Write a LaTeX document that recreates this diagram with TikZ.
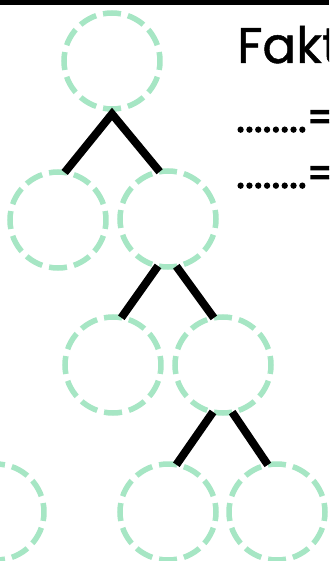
\documentclass[tikz,border=0pt]{standalone}
\usepackage{fontspec}
\setmainfont{Poppins}
\newfontfamily\heavy{Poppins}[FakeBold=1]
\newfontfamily\heavydots{Poppins}[FakeBold=2.5]
\usetikzlibrary{calc}
\definecolor{mint}{RGB}{166,230,196}
\begin{document}
\begin{tikzpicture}[x=1pt,y=-1pt,
  bub/.style={circle,draw=mint,line width=5.5pt,dash pattern=on 18pt off 7.13pt,dash phase=9pt,minimum size=96pt,inner sep=0pt,outer sep=0pt},
  edge/.style={line width=8pt,black,line join=miter},
  big/.style={font=\heavy\fontsize{50}{50}\selectfont,anchor=base west,inner sep=0pt},
  dots/.style={font=\heavydots\fontsize{42}{42}\selectfont,anchor=base west,inner sep=0pt}]
\useasboundingbox (0,0) rectangle (329,561);
\clip (0,0) rectangle (329,561);
\fill[white] (0,0) rectangle (329,561);
\fill[black] (0,0) rectangle (329,5);
\node[bub] (A) at (112,61) {};
\node[bub] (B) at (58,220) {};
\node[bub] (C) at (168,219) {};
\node[bub] (D) at (113,365) {};
\node[bub] (E) at (223,365) {};
\node[bub] (F) at (-4,512) {};
\node[bub] (G) at (168,512) {};
\node[bub] (H) at (277,512) {};
\coordinate (Ap) at ($(A.south)+(0,5)$);
\draw[edge] (B.82) -- (Ap) -- (C.100);
\draw[edge] (C.258) -- (D.80);
\draw[edge] (C.280) -- (E.101);
\draw[edge] (E.258) -- (G.80);
\draw[edge] (E.281) -- (H.101);
\node[big] (T) at (237,63) {Fakt};
\node[dots] (L1) at (236,132) {........=};
\node[dots] (L2) at (236,188) {........=};
\end{tikzpicture}
\end{document}
